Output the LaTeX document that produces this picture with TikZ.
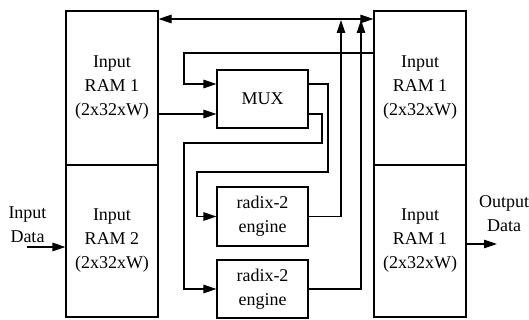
\documentclass[tikz,border=0pt]{standalone}
\usepackage{fontspec}
\setmainfont{Liberation Serif}
\usetikzlibrary{arrows.meta}
\begin{document}
\begin{tikzpicture}[x=1pt,y=-1pt, line width=1.1pt,
  box/.style={draw, rectangle, align=center, inner sep=0pt, font=\fontsize{18}{24}\selectfont},
  lbl/.style={align=center, inner sep=0pt, font=\fontsize{18}{24}\selectfont},
  arr/.style={-{Triangle[length=13pt,width=8.5pt]}},
  darr/.style={{Triangle[length=13pt,width=8.5pt]}-{Triangle[length=13pt,width=8.5pt]}}]
\useasboundingbox (0,0) rectangle (529,320);
% RAM columns
\node[box, minimum width=92pt, minimum height=154pt] (L1) at (112,88) {Input\\RAM 1\\(2x32xW)};
\node[box, minimum width=92pt, minimum height=152pt] (L2) at (112,241) {Input\\RAM 2\\(2x32xW)};
\node[box, minimum width=92pt, minimum height=154pt] (R1) at (420,88) {Input\\RAM 1\\(2x32xW)};
\node[box, minimum width=92pt, minimum height=152pt] (R2) at (420,241) {Input\\RAM 1\\(2x32xW)};
% middle blocks
\node[box, minimum width=91pt, minimum height=58pt] (MUX) at (262.5,99) {MUX};
\node[box, minimum width=91pt, minimum height=59pt] (E1) at (262.5,216.5) {radix-2\\engine};
\node[box, minimum width=91pt, minimum height=58pt] (E2) at (262.5,289) {radix-2\\engine};
% labels
\node[lbl] (inlbl) at (27.5,225) {Input\\Data};
\node[lbl] (outlbl) at (504,214) {Output\\Data};
\coordinate (instart) at (27,247);
\coordinate (outend) at (497,244);
% top bus
\draw[darr] (L1.east |- 0,19) -- (R1.west |- 0,19);
% RAM1 right -> MUX
\draw[arr] (R1.west |- 0,53) -| (184,84) -- ([yshift=15pt]MUX.west);
% RAM1 left -> MUX
\draw[arr] (L1.east |- 0,114) -- ([yshift=-15pt]MUX.west);
% MUX outputs
\draw[arr] ([yshift=15pt]MUX.east) -| (328,172) -| (197,216.5) -- (E1.west);
\draw[arr] ([yshift=-15pt]MUX.east) -| (322,143) -| (184,289) -- (E2.west);
% engine outputs
\draw[arr] (E1.east) -| (341,20);
\draw[arr] (E2.east) -| (361,20);
% data in/out
\draw[arr] (instart) -- (L2.west |- instart);
\draw[arr] (R2.east |- outend) -- (outend);
\end{tikzpicture}
\end{document}
